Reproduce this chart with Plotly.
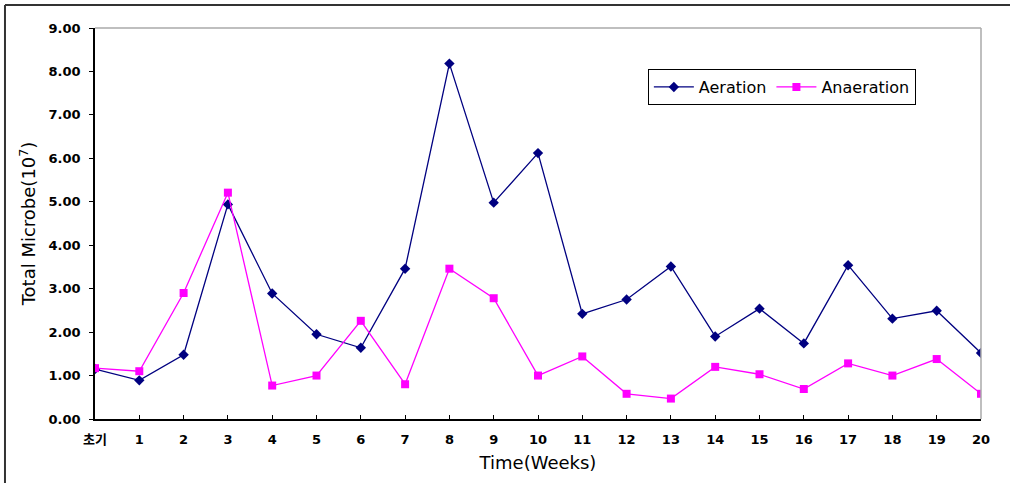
import plotly.graph_objects as go

weeks = ["초기", "1", "2", "3", "4", "5", "6", "7", "8", "9", "10",
         "11", "12", "13", "14", "15", "16", "17", "18", "19", "20"]
aeration = [1.15, 0.89, 1.48, 4.94, 2.89, 1.95, 1.64, 3.46, 8.18, 4.98, 6.12,
            2.42, 2.75, 3.51, 1.90, 2.54, 1.74, 3.54, 2.31, 2.49, 1.52]
anaeration = [1.17, 1.10, 2.90, 5.21, 0.77, 1.00, 2.26, 0.80, 3.46, 2.78, 1.00,
              1.44, 0.58, 0.47, 1.20, 1.03, 0.69, 1.28, 1.00, 1.38, 0.58]
y_ticks = [0, 1, 2, 3, 4, 5, 6, 7, 8, 9]

x_pos = list(range(len(weeks)))
font_main = "DejaVu Sans, Noto Sans CJK KR, sans-serif"

fig = go.Figure()
fig.add_trace(go.Scatter(
    x=x_pos, y=aeration, name="Aeration", mode="lines+markers",
    line=dict(color="#000080", width=1.3),
    marker=dict(symbol="diamond", size=8, color="#000080"),
))
fig.add_trace(go.Scatter(
    x=x_pos, y=anaeration, name="Anaeration", mode="lines+markers",
    line=dict(color="#FF00FF", width=1.3),
    marker=dict(symbol="square", size=8, color="#FF00FF"),
))

fig.update_layout(
    width=1010, height=483,
    margin=dict(l=95, r=29, t=28, b=64),
    paper_bgcolor="white", plot_bgcolor="white",
    font=dict(family=font_main, color="black"),
    showlegend=True,
    legend=dict(
        orientation="h", x=0.624, y=0.895, xanchor="left", yanchor="top",
        bgcolor="white", bordercolor="black", borderwidth=1,
        font=dict(size=16, family=font_main, color="black"),
        itemwidth=40, tracegroupgap=0,
    ),
    xaxis=dict(
        range=[0, 20], tickmode="array", tickvals=x_pos, ticktext=weeks,
        showgrid=False, zeroline=False,
        showline=True, linecolor="black", linewidth=1.5,
        ticks="inside", ticklen=4, tickcolor="black", tickwidth=1,
        ticklabelstandoff=8,
        tickfont=dict(size=13, family=font_main, color="black", weight="bold"),
        title=dict(text="Time(Weeks)", font=dict(size=18, family=font_main), standoff=10),
    ),
    yaxis=dict(
        range=[0, 9], tickmode="array", tickvals=y_ticks,
        ticktext=[f"{v:.2f}" for v in y_ticks],
        showgrid=False, zeroline=False,
        showline=True, linecolor="black", linewidth=1.5,
        ticks="outside", ticklen=4, tickcolor="black", tickwidth=1,
        ticklabelstandoff=6,
        tickfont=dict(size=13, family=font_main, color="black", weight="bold"),
        title=dict(text="Total Microbe(10<sup>7</sup>)", font=dict(size=18, family=font_main), standoff=8),
    ),
    shapes=[
        # gray frame on the top and right of the plotting area
        dict(type="line", xref="paper", yref="paper", x0=0, x1=1, y0=1, y1=1,
             line=dict(color="#aaaaaa", width=1.5)),
        dict(type="line", xref="paper", yref="paper", x0=1, x1=1, y0=0, y1=1,
             line=dict(color="#aaaaaa", width=1.5)),
        # outer chart border (top and left edges visible)
        dict(type="line", xref="paper", yref="paper", x0=-0.1016, x1=1.1, y0=1.0588, y1=1.0588,
             line=dict(color="#333333", width=2), layer="below"),
        dict(type="line", xref="paper", yref="paper", x0=-0.1016, x1=-0.1016, y0=-0.2, y1=1.0588,
             line=dict(color="#333333", width=2), layer="below"),
    ],
)

fig.write_html("out.html")
